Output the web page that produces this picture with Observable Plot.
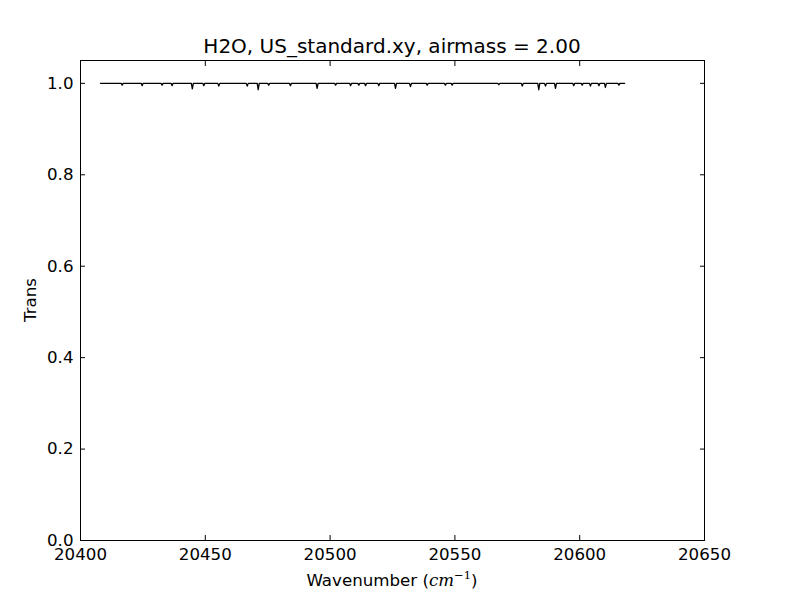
<!DOCTYPE html>
<html><head><meta charset="utf-8">
<script src="https://cdn.jsdelivr.net/npm/d3@7"></script>
<script src="https://cdn.jsdelivr.net/npm/@observablehq/plot@0.6"></script>
<style>body{margin:0;background:#fff} svg{display:block}</style>
</head><body><div id="chart"></div>
<script>
const titleText = "H2O, US_standard.xy, airmass = 2.00";
const yLabelText = "Trans";
const xTicks = [20400, 20450, 20500, 20550, 20600, 20650];
const yTicks = [0, 0.2, 0.4, 0.6, 0.8, 1.0];

const wavenumber = [
20408.0,
20416.3, 20416.7, 20417.1,
20424.3, 20424.7, 20425.1,
20432.3, 20432.7, 20433.1,
20436.3, 20436.7, 20437.1,
20444.4, 20444.8, 20445.2,
20449.0, 20449.4, 20449.8,
20455.0, 20455.4, 20455.8,
20466.4, 20466.8, 20467.2,
20470.8, 20471.2, 20471.6,
20475.0, 20475.4, 20475.8,
20483.7, 20484.1, 20484.5,
20494.4, 20494.8, 20495.2,
20501.8, 20502.2, 20502.6,
20507.8, 20508.2, 20508.6,
20511.1, 20511.5, 20511.9,
20513.8, 20514.2, 20514.6,
20519.1, 20519.5, 20519.9,
20525.8, 20526.2, 20526.6,
20531.8, 20532.2, 20532.6,
20538.5, 20538.9, 20539.3,
20545.8, 20546.2, 20546.6,
20548.5, 20548.9, 20549.3,
20567.2, 20567.6, 20568.0,
20576.6, 20577.0, 20577.4,
20583.2, 20583.6, 20584.0,
20585.9, 20586.3, 20586.7,
20589.9, 20590.3, 20590.7,
20597.2, 20597.6, 20598.0,
20600.6, 20601.0, 20601.4,
20603.9, 20604.3, 20604.7,
20607.3, 20607.7, 20608.1,
20609.9, 20610.3, 20610.7,
20615.3, 20615.7, 20616.1,
20618.0
];
const transmission = [
1.000,
1.000, 0.996, 1.000,
1.000, 0.995, 1.000,
1.000, 0.996, 1.000,
1.000, 0.995, 1.000,
1.000, 0.988, 1.000,
1.000, 0.995, 1.000,
1.000, 0.994, 1.000,
1.000, 0.994, 1.000,
1.000, 0.986, 1.000,
1.000, 0.996, 1.000,
1.000, 0.995, 1.000,
1.000, 0.989, 1.000,
1.000, 0.996, 1.000,
1.000, 0.995, 1.000,
1.000, 0.996, 1.000,
1.000, 0.995, 1.000,
1.000, 0.995, 1.000,
1.000, 0.989, 1.000,
1.000, 0.993, 1.000,
1.000, 0.996, 1.000,
1.000, 0.996, 1.000,
1.000, 0.996, 1.000,
1.000, 0.997, 1.000,
1.000, 0.994, 1.000,
1.000, 0.986, 1.000,
1.000, 0.994, 1.000,
1.000, 0.989, 1.000,
1.000, 0.995, 1.000,
1.000, 0.996, 1.000,
1.000, 0.994, 1.000,
1.000, 0.995, 1.000,
1.000, 0.991, 1.000,
1.000, 0.996, 1.000,
1.000
];
const data = wavenumber.map((w, i) => ({w, t: transmission[i]}));

const ML = 80, MR = 96, MT = 60, MB = 60, W = 800, H = 600;
const plot = Plot.plot({
  width: W, height: H,
  marginLeft: ML, marginRight: MR, marginTop: MT, marginBottom: MB,
  style: {fontFamily: "DejaVu Sans", fontSize: "16.67px", color: "black", background: "white"},
  x: {domain: [20400, 20650]},
  y: {domain: [0, 1.05]},
  marks: [
    Plot.line(data, {x: "w", y: "t", stroke: "black", strokeWidth: 1.3}),
    Plot.frame({stroke: "black", strokeWidth: 1}),
    Plot.axisX({ticks: xTicks, tickSize: -5, tickPadding: 13, tickFormat: d => String(d), label: null}),
    Plot.axisX({anchor: "top", ticks: xTicks, tickSize: -5, tickFormat: () => "", label: null}),
    Plot.axisY({ticks: yTicks, tickSize: -5, tickPadding: 12, tickFormat: d => d.toFixed(1), label: null}),
    Plot.axisY({anchor: "right", ticks: yTicks, tickSize: -5, tickFormat: () => "", label: null})
  ]
});
document.getElementById("chart").appendChild(plot);

const svg = d3.select(plot);
const cx = ML + (W - ML - MR) / 2;
svg.append("text").attr("x", cx).attr("y", 53).attr("text-anchor", "middle")
  .attr("font-family", "DejaVu Sans").attr("font-size", 20).attr("fill", "black").text(titleText);
svg.append("text").attr("transform", `translate(36,${MT + (H - MT - MB) / 2}) rotate(-90)`)
  .attr("text-anchor", "middle").attr("font-family", "DejaVu Sans").attr("font-size", 16.67)
  .attr("fill", "black").text(yLabelText);
const xl = svg.append("text").attr("x", cx).attr("y", 586).attr("text-anchor", "middle")
  .attr("font-family", "DejaVu Sans").attr("font-size", 16.67).attr("fill", "black");
xl.append("tspan").text("Wavenumber (");
xl.append("tspan").attr("font-family", "DejaVu Serif").attr("font-style", "italic").text("cm");
xl.append("tspan").attr("font-family", "DejaVu Serif").attr("font-size", 11.5).attr("dy", -7).text("−1");
xl.append("tspan").attr("dy", 7).text(")");
</script>
</body></html>
